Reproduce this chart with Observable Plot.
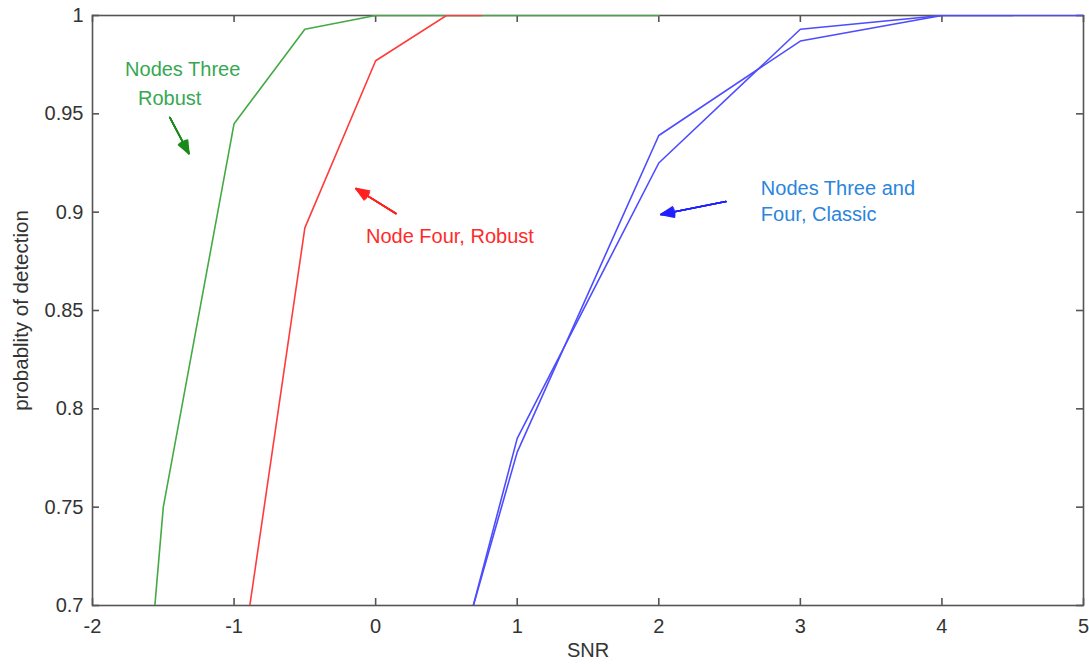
<!DOCTYPE html>
<html>
<head>
<meta charset="utf-8">
<script src="https://cdn.jsdelivr.net/npm/d3@7"></script>
<script src="https://cdn.jsdelivr.net/npm/@observablehq/plot@0.6"></script>
<style>
  html, body { margin: 0; padding: 0; background: #fff; }
  #chart svg { display: block; }
</style>
</head>
<body>
<div id="chart"></div>
<script>
// ---- data ----
const xTicks = [-2, -1, 0, 1, 2, 3, 4, 5];
const yTicks = [0.7, 0.75, 0.8, 0.85, 0.9, 0.95, 1];

const snrGreen = [-2, -1.5, -1, -0.5, 0, 0.5, 1, 1.5, 2];
const pdGreen  = [0.33, 0.75, 0.945, 0.993, 1, 1, 1, 1, 1];

const snrRed = [-1, -0.5, 0, 0.5, 0.75];
const pdRed  = [0.645, 0.892, 0.977, 1, 1];

const snrBlueA = [0.5, 1, 2, 3, 4, 4.5];
const pdBlueA  = [0.652, 0.778, 0.939, 0.987, 1, 1];

const snrBlueB = [0.5, 1, 2, 3, 4, 5];
const pdBlueB  = [0.648, 0.785, 0.925, 0.993, 1, 1];

const noteText  = ["Nodes Three", "Robust", "Node Four, Robust", "Nodes Three and", "Four, Classic"];
const noteX     = [-1.77, -1.679, -0.0685, 2.721, 2.721];
const noteY     = [0.9725, 0.9578, 0.8876, 0.912, 0.8988];
const noteColor = ["#36a852", "#36a852", "#ff2a2a", "#2a85dd", "#2a85dd"];

const arrowX1 = [-1.453, 0.143, 2.474];
const arrowY1 = [0.9481, 0.8993, 0.9054];
const arrowX2 = [-1.319, -0.139, 2.015];
const arrowY2 = [0.9298, 0.912, 0.8988];
const arrowColor = ["#1a8a1a", "#ff2020", "#2020ff"];

// ---- tables built from the arrays ----
const toRows = (xs, ys) => xs.map((x, i) => ({x, y: ys[i]}));
const green = toRows(snrGreen, pdGreen);
const red = toRows(snrRed, pdRed);
const blueA = toRows(snrBlueA, pdBlueA);
const blueB = toRows(snrBlueB, pdBlueB);
const notes = noteText.map((t, i) => ({t, x: noteX[i], y: noteY[i], c: noteColor[i]}));
const arrows = arrowX1.map((x1, i) => ({x1, y1: arrowY1[i], x2: arrowX2[i], y2: arrowY2[i], c: arrowColor[i]}));

const W = 1089, H = 664, mL = 92, mR = 6, mT = 15, mB = 59;
const plotW = W - mL - mR, plotH = H - mT - mB, tk = 7;
const axisGray = "#555";

const arrowMarks = [14, 24, 34, 44].map(a =>
  Plot.arrow(arrows, {x1: "x1", y1: "y1", x2: "x2", y2: "y2", stroke: "c",
    strokeWidth: 1.6, headLength: 13, headAngle: a}));

const chart = Plot.plot({
  width: W, height: H,
  marginLeft: mL, marginRight: mR, marginTop: mT, marginBottom: mB,
  style: {fontFamily: "Liberation Sans, Arial, Helvetica, sans-serif", fontSize: "20px", background: "#fff"},
  x: {domain: [-2, 5]},
  y: {domain: [0.7, 1]},
  marks: [
    Plot.frame({stroke: axisGray, strokeWidth: 1.6}),
    Plot.tickX(xTicks, {x: d => d, insetTop: plotH - tk, stroke: axisGray, strokeWidth: 1.6}),
    Plot.tickX(xTicks, {x: d => d, insetBottom: plotH - tk, stroke: axisGray, strokeWidth: 1.6}),
    Plot.tickY(yTicks, {y: d => d, insetRight: plotW - tk, stroke: axisGray, strokeWidth: 1.6}),
    Plot.tickY(yTicks, {y: d => d, insetLeft: plotW - tk, stroke: axisGray, strokeWidth: 1.6}),
    Plot.axisX({ticks: xTicks, tickSize: 0, tickPadding: 13, label: null, tickFormat: d => String(d), fill: "#333", fontSize: 20}),
    Plot.axisY({ticks: yTicks, tickSize: 0, tickPadding: 9, label: null, tickFormat: d => String(+d.toFixed(2)), fill: "#333", fontSize: 20}),
    Plot.text(["SNR"], {frameAnchor: "bottom", dy: 51, text: d => d, fill: "#333", fontSize: 20}),
    Plot.text(["probablity of detection"], {frameAnchor: "left", textAnchor: "middle", dx: -71, rotate: -90, text: d => d, fill: "#333", fontSize: 20.5}),
    Plot.line(green, {x: "x", y: "y", stroke: "#44aa44", strokeWidth: 1.6, clip: true}),
    Plot.line(red, {x: "x", y: "y", stroke: "#ff3b3b", strokeWidth: 1.6, clip: true}),
    Plot.line(blueA, {x: "x", y: "y", stroke: "#4d4dff", strokeWidth: 1.6, clip: true}),
    Plot.line(blueB, {x: "x", y: "y", stroke: "#4d4dff", strokeWidth: 1.6, clip: true}),
    ...arrowMarks,
    Plot.text(notes, {x: "x", y: "y", text: "t", fill: "c", textAnchor: "start", fontSize: 20})
  ]
});
document.getElementById("chart").appendChild(chart);
</script>
</body>
</html>
